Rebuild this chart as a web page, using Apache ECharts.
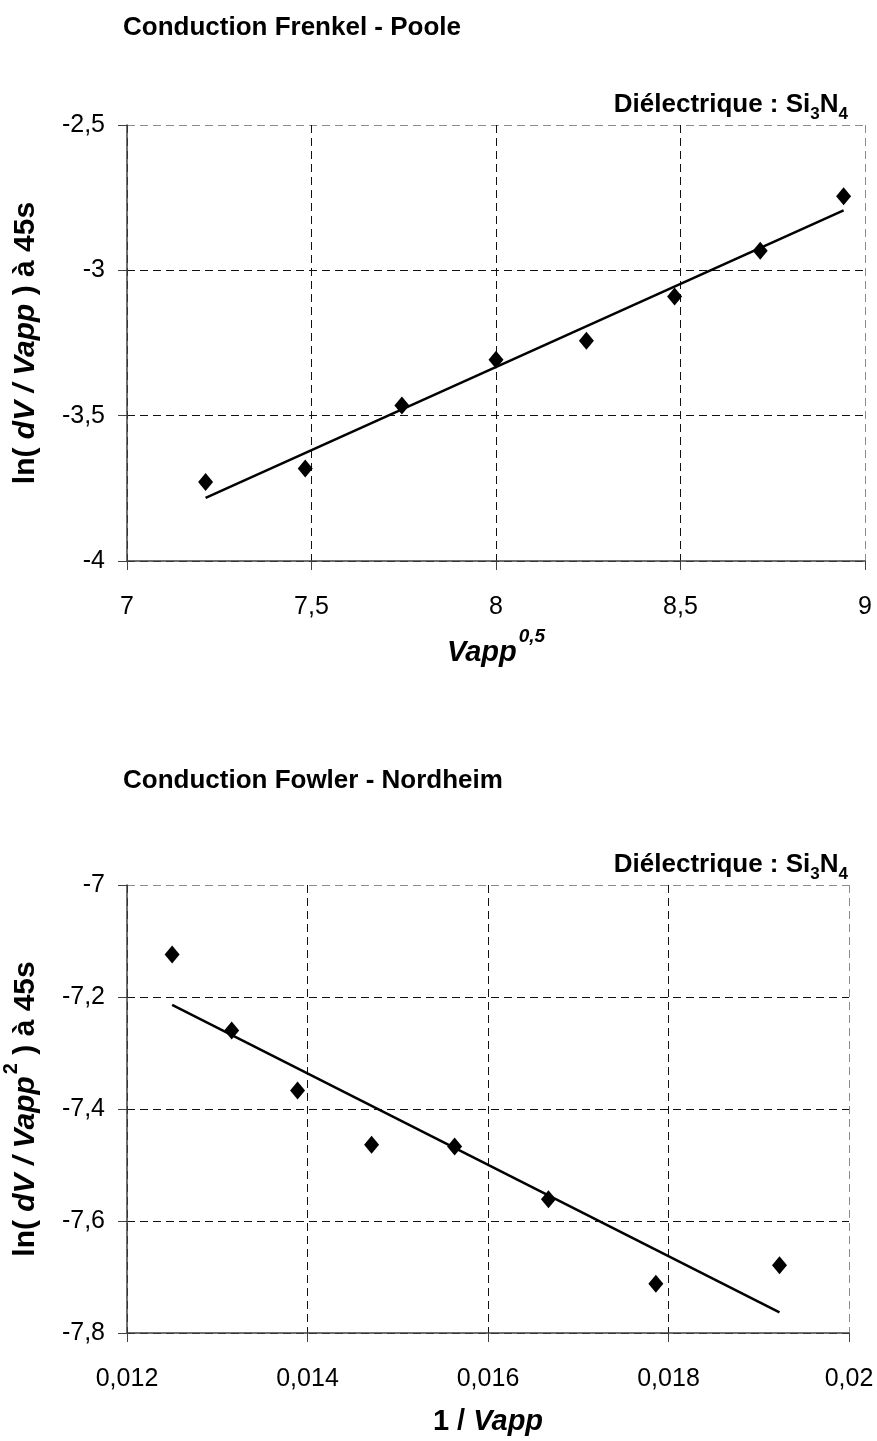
<!DOCTYPE html>
<html>
<head>
<meta charset="utf-8">
<script src="https://cdn.jsdelivr.net/npm/echarts@6/dist/echarts.min.js"></script>
<style>
html,body{margin:0;padding:0;background:#fff;}
#chart{width:877px;height:1441px;}
</style>
</head>
<body>
<div id="chart"></div>
<script>
// ---- Data: Frenkel-Poole (top) ----
const fpX = [7.213, 7.483, 7.745, 8.0, 8.245, 8.484, 8.716, 8.942];
const fpY = [-3.728, -3.682, -3.465, -3.308, -3.242, -3.090, -2.933, -2.745];
const fpFitX = [7.213, 8.942];
const fpFitY = [-3.783, -2.794];
// ---- Data: Fowler-Nordheim (bottom) ----
const fnX = [0.0125, 0.01316, 0.01389, 0.01471, 0.01563, 0.01667, 0.01786, 0.01923];
const fnY = [-7.124, -7.260, -7.367, -7.464, -7.467, -7.561, -7.712, -7.679];
const fnFitX = [0.0125, 0.01923];
const fnFitY = [-7.214, -7.763];
// ---- Axis ticks ----
const fpXTicks = [7, 7.5, 8, 8.5, 9];
const fpYTicks = [-4, -3.5, -3, -2.5];
const fnXTicks = [0.012, 0.014, 0.016, 0.018, 0.02];
const fnYTicks = [-7.8, -7.6, -7.4, -7.2, -7];

const FONT = 'Liberation Sans, Arial, sans-serif';
const pair = (xs, ys) => xs.map((x, i) => [x, ys[i]]);
const fmt = v => String(+v.toFixed(4)).replace('.', ',');

const gridLine = n => ({
  show: true,
  lineStyle: { type: [8, 5], width: 1, color: Array.from({length: n}, (_, i) => i === n - 1 ? '#8c8c8c' : '#111') }
});
function makeRich(fs, lh) {
  const base = { fontWeight: 'bold', fontFamily: FONT, color: '#000' };
  return {
    n: Object.assign({}, base, { fontSize: fs, lineHeight: lh, verticalAlign: 'bottom' }),
    i: Object.assign({}, base, { fontSize: fs, fontStyle: 'italic', lineHeight: lh, verticalAlign: 'bottom' }),
    sup: Object.assign({}, base, { fontSize: Math.round(fs * 0.65), lineHeight: lh, verticalAlign: 'top', padding: [0, 0, 0, 2] }),
    supi: Object.assign({}, base, { fontSize: Math.round(fs * 0.65), fontStyle: 'italic', lineHeight: lh, verticalAlign: 'top', padding: [0, 0, 0, 2] })
  };
}
function xAxisCfg(gi, ticks, name, nameGap) {
  return {
    type: 'value', gridIndex: gi,
    min: ticks[0], max: ticks[ticks.length - 1], interval: +(ticks[1] - ticks[0]).toFixed(4),
    axisLine: { show: true, onZero: false, lineStyle: { color: '#404040', width: 1.5 } },
    axisTick: { show: true, inside: false, length: 9, lineStyle: { color: '#404040', width: 1 } },
    axisLabel: { margin: 34, fontSize: 25, color: '#000', fontFamily: FONT, formatter: fmt },
    splitLine: gridLine(ticks.length),
    name: name, nameLocation: 'middle', nameGap: nameGap,
    nameTextStyle: { fontFamily: FONT, color: '#000', verticalAlign: 'middle', rich: makeRich(29, 40) }
  };
}
function yAxisCfg(gi, ticks, name) {
  return {
    type: 'value', gridIndex: gi,
    min: ticks[0], max: ticks[ticks.length - 1], interval: +(ticks[1] - ticks[0]).toFixed(4),
    axisLine: { show: true, onZero: false, lineStyle: { color: '#404040', width: 1.5 } },
    axisTick: { show: true, inside: false, length: 9, lineStyle: { color: '#404040', width: 1 } },
    axisLabel: { margin: 22, fontSize: 25, color: '#000', fontFamily: FONT, formatter: fmt },
    splitLine: gridLine(ticks.length),
    name: name, nameLocation: 'middle', nameRotate: 90, nameGap: 106,
    nameTextStyle: { fontFamily: FONT, color: '#000', verticalAlign: 'middle', rich: makeRich(30, 40) }
  };
}
const subRich = {
  b: { fontSize: 26, fontWeight: 'bold', fontFamily: FONT, color: '#000', lineHeight: 31, verticalAlign: 'top' },
  s: { fontSize: 17, fontWeight: 'bold', fontFamily: FONT, color: '#000', lineHeight: 31, verticalAlign: 'bottom' }
};
const titleStyle = { fontFamily: FONT, fontWeight: 'bold', fontSize: 26, color: '#000' };

const option = {
  animation: false,
  backgroundColor: '#fff',
  title: [
    { text: 'Conduction Frenkel - Poole', left: 123, top: 15, padding: 0, textStyle: titleStyle },
    { text: '{b|Diélectrique : Si}{s|3}{b|N}{s|4}', right: 29, top: 92, padding: 0, textStyle: { rich: subRich } },
    { text: 'Conduction Fowler - Nordheim', left: 123, top: 768, padding: 0, textStyle: titleStyle },
    { text: '{b|Diélectrique : Si}{s|3}{b|N}{s|4}', right: 29, top: 852, padding: 0, textStyle: { rich: subRich } }
  ],
  grid: [
    { left: 127, top: 125, width: 738, height: 436, containLabel: false, outerBoundsMode: 'none' },
    { left: 127, top: 885, width: 722, height: 448, containLabel: false, outerBoundsMode: 'none' }
  ],
  xAxis: [
    xAxisCfg(0, fpXTicks, '{i|Vapp}{supi|0,5}', 86),
    xAxisCfg(1, fnXTicks, '{n|1 / }{i|Vapp}', 83)
  ],
  yAxis: [
    yAxisCfg(0, fpYTicks, '{n|ln( }{i|dV / Vapp}{n| ) à 45s}'),
    yAxisCfg(1, fnYTicks, '{n|ln( }{i|dV / Vapp}{sup|2}{n| ) à 45s}')
  ],
  series: [
    { type: 'line', xAxisIndex: 0, yAxisIndex: 0, data: pair(fpFitX, fpFitY), showSymbol: false, symbol: 'none',
      lineStyle: { color: '#000', width: 2.5 }, z: 3 },
    { type: 'scatter', xAxisIndex: 0, yAxisIndex: 0, data: pair(fpX, fpY), symbol: 'diamond', symbolSize: [15, 18],
      itemStyle: { color: '#000', opacity: 1 }, z: 4 },
    { type: 'line', xAxisIndex: 1, yAxisIndex: 1, data: pair(fnFitX, fnFitY), showSymbol: false, symbol: 'none',
      lineStyle: { color: '#000', width: 2.5 }, z: 3 },
    { type: 'scatter', xAxisIndex: 1, yAxisIndex: 1, data: pair(fnX, fnY), symbol: 'diamond', symbolSize: [15, 18],
      itemStyle: { color: '#000', opacity: 1 }, z: 4 }
  ]
};
const chart = echarts.init(document.getElementById('chart'), null, { renderer: 'canvas' });
chart.setOption(option);
</script>
</body>
</html>
